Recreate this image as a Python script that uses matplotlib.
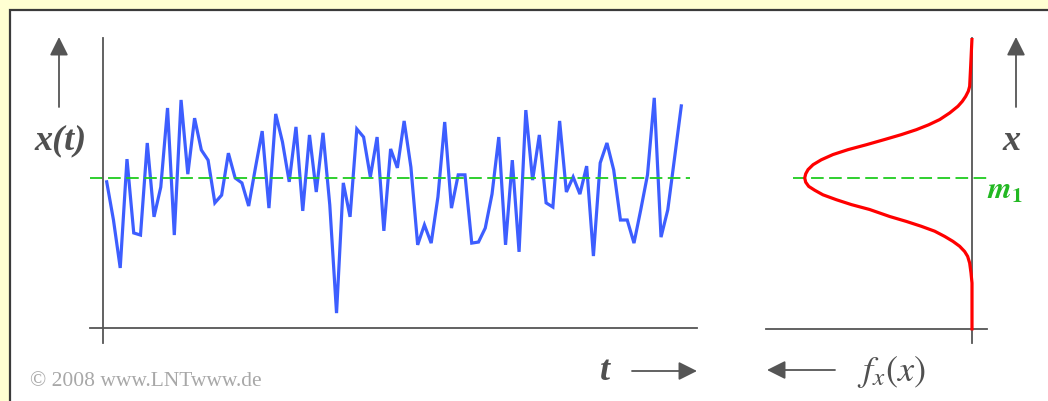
import numpy as np
import matplotlib.pyplot as plt
from matplotlib.patches import Rectangle

plt.rcParams['mathtext.fontset'] = 'stix'
plt.rcParams['font.family'] = ['Liberation Serif', 'DejaVu Serif']

# Musterfunktion x(t): Abtastwerte (Mittelwert m1 = 0)
m1 = 0.0
x_t = [
    -0.11, -1.20, -2.57, 0.54, -1.57, -1.63, 1.00, -1.11, -0.26, 2.00,
    -1.63, 2.23, 0.11, 1.71, 0.80, 0.51, -0.71, -0.49, 0.71, 0.00,
    -0.14, -0.80, 0.29, 1.34, -0.86, 1.83, 1.03, -0.11, 1.46, -0.94,
    1.23, -0.40, 1.29, -0.77, -3.86, -0.14, -1.11, 1.40, 1.17, 0.03,
    1.17, -1.51, 0.83, 0.29, 1.63, 0.31, -1.91, -1.34, -1.86, -0.54,
    1.60, -0.86, 0.09, 0.09, -1.86, -1.83, -1.43, -0.46, 1.17, -1.91,
    0.51, -2.11, 1.94, -0.06, 1.23, -0.71, -0.83, 1.63, -0.40, 0.03,
    -0.46, 0.34, -2.23, 0.43, 1.00, 0.23, -1.20, -1.20, -1.86, -0.91,
    0.09, 2.29, -1.69, -0.91, 0.57, 2.06,
]
t = np.arange(len(x_t))

# WDF f_x(x): Amplitudenwerte und normierte Dichte
wdf_x = [4.00, 3.19, 2.62, 2.48, 2.33, 2.19, 2.05, 1.86, 1.67, 1.52,
         1.38, 1.24, 1.10, 0.95, 0.81, 0.67, 0.52, 0.38, 0.24, 0.12,
         0.00, -0.12, -0.24, -0.35, -0.48, -0.62, -0.76, -0.90, -1.10,
         -1.24, -1.38, -1.52, -1.67, -1.81, -1.95, -2.10, -2.24, -2.43,
         -2.71, -3.00, -4.31]
wdf_f = [0.000, 0.008, 0.014, 0.022, 0.038, 0.058, 0.084, 0.133, 0.193,
         0.259, 0.333, 0.422, 0.522, 0.632, 0.741, 0.831, 0.901, 0.950,
         0.980, 0.994, 1.000, 0.994, 0.976, 0.940, 0.891, 0.811, 0.721,
         0.612, 0.492, 0.393, 0.303, 0.223, 0.163, 0.114, 0.074, 0.044,
         0.026, 0.014, 0.006, 0.000, 0.000]

W, H = 1048, 401
grau = '#555555'
blau = '#3D5EFF'
gruen = '#1FCC1F'


def rahmen(x0, y0, x1, y1):
    # Pixel (von oben gezählt) -> Figure-Koordinaten
    return [x0 / W, 1 - y1 / H, (x1 - x0) / W, (y1 - y0) / H]


def px(x, y):
    return (x, H - y)


fig = plt.figure(figsize=(W / 100, H / 100), dpi=100, facecolor='#FFFFD2')
fig.add_artist(Rectangle((9.5 / W, -0.1), 1.2, 1 - 9.5 / H + 0.1,
                         transform=fig.transFigure, facecolor='white',
                         edgecolor='#3A3A3A', lw=1.6, zorder=0))

# Zeitverlauf
ax1 = fig.add_axes(rahmen(90, 38, 697, 343))
ax1.patch.set_alpha(0)
dt = 6.76
ax1.set_xlim((90 - 106.7) / dt, (697 - 106.7) / dt)
ax1.set_ylim((178 - 343) / 35, (178 - 38) / 35)
ax1.plot(t, x_t, color=blau, lw=2.3, solid_joinstyle='miter')
ax1.axhline(m1, xmin=0, xmax=0.988, color=gruen, lw=1.3, ls=(0, (7, 3)))
ax1.spines['left'].set_position(('data', (103 - 106.7) / dt))
ax1.spines['bottom'].set_position(('data', (178 - 328) / 35))

# Wahrscheinlichkeitsdichtefunktion
ax2 = fig.add_axes(rahmen(766, 38, 987, 343))
ax2.patch.set_alpha(0)
ax2.set_xlim((972 - 766) / 167.3, (972 - 987) / 167.3)
ax2.set_ylim(ax1.get_ylim())
ax2.plot(wdf_f, wdf_x, color='red', lw=2.3, zorder=3)
ax2.axhline(m1, xmin=(793 - 766) / 221, xmax=1.0, color=gruen, lw=1.3,
            ls=(0, (7, 3)))
ax2.spines['left'].set_position(('data', 0))
ax2.spines['bottom'].set_position(('data', (178 - 329) / 35))

for ax in (ax1, ax2):
    for s in ('top', 'right'):
        ax.spines[s].set_visible(False)
    for s in ('left', 'bottom'):
        ax.spines[s].set_color(grau)
        ax.spines[s].set_linewidth(1.3)
    ax.set_xticks([])
    ax.set_yticks([])

# Pfeile
pfeil = dict(arrowstyle='-|>,head_length=0.8,head_width=0.4', color=grau,
             lw=1.3, mutation_scale=14, shrinkA=0, shrinkB=0)
for start, ende in [((59, 107), (59, 37)), ((1016, 107), (1016, 37)),
                    ((632, 371), (697, 371)), ((835, 370), (767, 370))]:
    fig.add_artist(plt.matplotlib.text.Annotation(
        '', xy=px(*ende), xytext=px(*start), xycoords='figure pixels',
        arrowprops=pfeil))

# Beschriftungen
schrift = dict(fontsize=26, color='#505050', ha='center', va='center',
               transform=None)
fig.text(*px(60, 141), 'x(t)', style='italic', weight='bold', **schrift)
fig.text(*px(1012, 141), 'x', style='italic', weight='bold', **schrift)
fig.text(*px(605, 371), 't', style='italic', weight='bold', **schrift)
fig.text(*px(891, 372), r'$f_x(x)$', **schrift)
fig.text(*px(1005, 191), r'$\boldsymbol{m}_\mathbf{1}$', fontsize=22,
         color='#22B822', ha='center', va='center', transform=None)
fig.text(*px(30, 381), '© 2008 www.LNTwww.de', fontsize=15.5,
         color='#A8A8A8', ha='left', va='center', transform=None)

fig.savefig('out.png', dpi=100, facecolor=fig.get_facecolor())
